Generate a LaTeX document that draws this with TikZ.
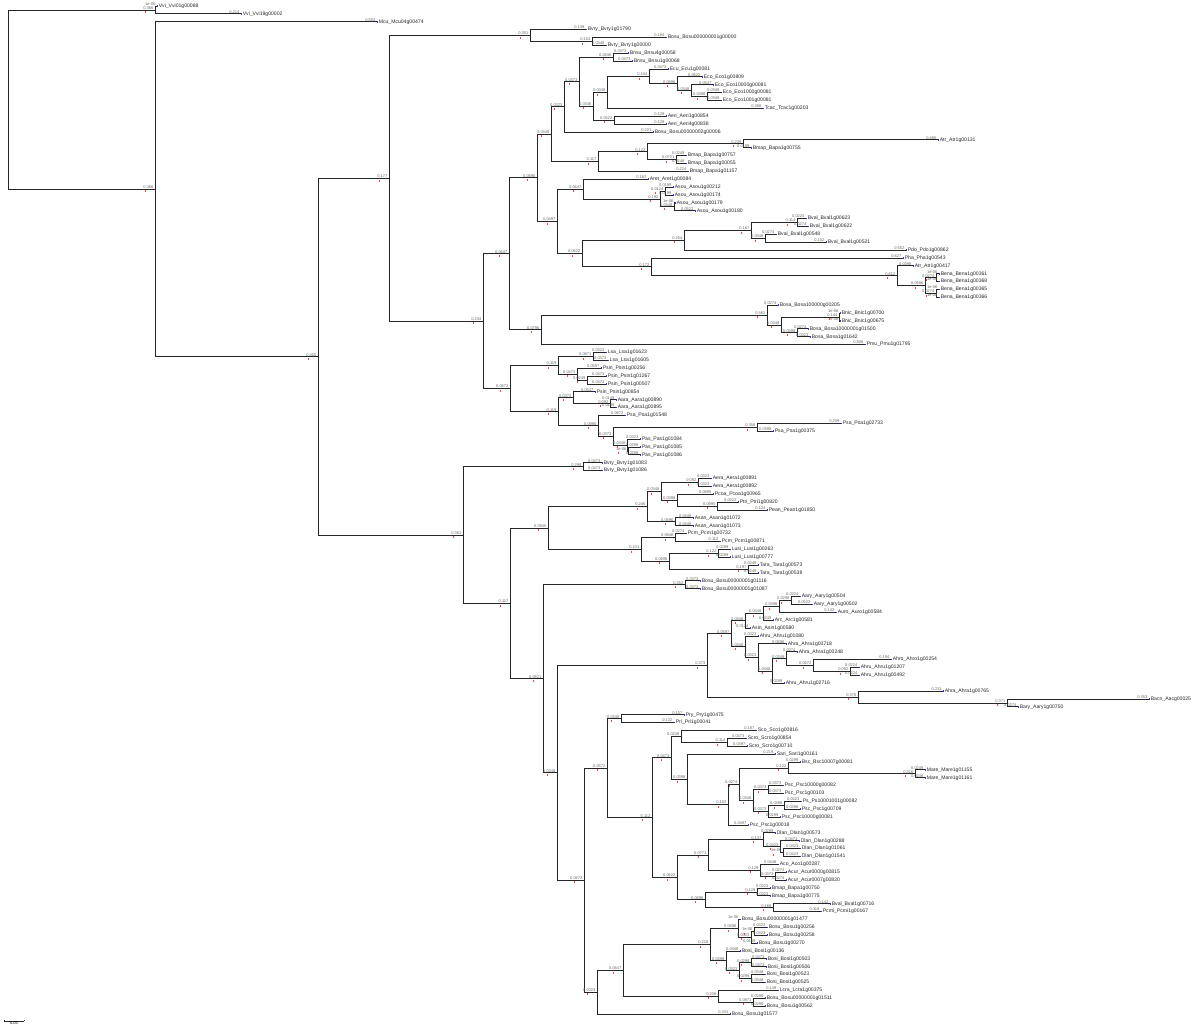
\documentclass[tikz,border=0pt]{standalone}
\usepackage{fontspec}
\setmainfont{Liberation Sans}
\usetikzlibrary{calc}

% branch length text
\newcommand{\bltext}[1]{\pgfmathsetmacro\blval{#1}\ifdim\blval pt<0.0075pt 1e-06\else\ifdim\blval pt<0.1pt\pgfmathprintnumber[fixed,precision=4,assume math mode=true]{\blval}\else\pgfmathprintnumber[fixed,precision=3,assume math mode=true]{\blval}\fi\fi}
% one branch, parent -> child
\newcommand{\treebranch}[2]{%
  \draw[twig] let \p1=(#1), \p2=(#2), \n1={(\x2-\x1)/402} in (#1) |- (#2) node[bllabel] {\bltext{\n1}};}
% inner node at x, halfway between its two children
\newcommand{\treeclade}[4]{%
  \path let \p1=($(#3)!.5!(#4)$) in coordinate (#1) at (#2pt,\y1);
  \treebranch{#1}{#3}\treebranch{#1}{#4}%
  \draw[nodetick] ([xshift=-10pt,yshift=-1.2pt]#1) -- ++(0,-2pt);}
% tip: name, x, row, text
\newcommand{\treeleaf}[4]{%
  \coordinate (#1) at (#2,#3);
  \fill[tipdot] ([yshift=-.8pt]#1) rectangle ++(1.2pt,1.6pt);
  \node[taxon] (#1t) at (#1) {#4};}

\begin{document}
\begin{tikzpicture}[x=1pt, y=-7.875pt,
    twig/.style = {draw=black!85, line width=0.8pt},
    bllabel/.style = {anchor=south east, inner sep=0.2pt, xshift=-1pt, font=\fontsize{4}{4.2}\selectfont, text=black!60},
    taxon/.style = {anchor=west, inner sep=0pt, xshift=1.6pt, font=\fontsize{5.1}{5.5}\selectfont, text=black!85},
    nodetick/.style = {draw=red!75, line width=0.5pt},
    tipdot/.style = {fill=blue!80}
]
\useasboundingbox (0,0.238) rectangle (1200,131.29);

% tips
\treeleaf{l1}{157}{1}{Vvi\_Vvi01g00088}
\treeleaf{l2}{241}{2}{Vvi\_Vvi19g00002}
\treeleaf{l3}{377}{3}{Mcu\_Mcu04g00474}
\treeleaf{l4}{586}{4}{Bvry\_Bvry1g01790}
\treeleaf{l5}{666}{5}{Bosu\_Bosu000000001g00000}
\treeleaf{l6}{606}{6}{Bvry\_Bvry1g00000}
\treeleaf{l7}{628}{7}{Bnsu\_Bnsu4g00058}
\treeleaf{l8}{632}{8}{Bnsu\_Bnsu1g00068}
\treeleaf{l9}{668}{9}{Ecu\_Ecu1g00081}
\treeleaf{l10}{702}{10}{Eco\_Eco1g00809}
\treeleaf{l11}{713}{11}{Eco\_Eco10000g00081}
\treeleaf{l12}{721}{12}{Eco\_Eco1000g00081}
\treeleaf{l13}{721}{13}{Eco\_Eco1001g00081}
\treeleaf{l14}{763}{14}{Tcac\_Tcac1g00203}
\treeleaf{l15}{666}{15}{Aeri\_Aeri1g00854}
\treeleaf{l16}{666}{16}{Aeri\_Aeri4g00838}
\treeleaf{l17}{653}{17}{Bosu\_Bosu00000002g00006}
\treeleaf{l18}{938}{18}{Atr\_Atr1g00131}
\treeleaf{l19}{751}{19}{Bmap\_Bapa1g00755}
\treeleaf{l20}{686}{20}{Bmap\_Bapa1g00757}
\treeleaf{l21}{686}{21}{Bmap\_Bapa1g00055}
\treeleaf{l22}{688}{22}{Bmap\_Bapa1g01157}
\treeleaf{l23}{648}{23}{Aret\_Aret1g00084}
\treeleaf{l24}{673}{24}{Asou\_Asou1g00212}
\treeleaf{l25}{673}{25}{Asou\_Asou1g00174}
\treeleaf{l26}{675}{26}{Asou\_Asou1g00179}
\treeleaf{l27}{695}{27}{Asou\_Asou1g00180}
\treeleaf{l28}{806}{28}{Bval\_Bval1g00623}
\treeleaf{l29}{808}{29}{Bval\_Bval1g00622}
\treeleaf{l30}{776}{30}{Bval\_Bval1g00548}
\treeleaf{l31}{826}{31}{Bval\_Bval1g00521}
\treeleaf{l32}{906}{32}{Pdo\_Pdo1g00862}
\treeleaf{l33}{903}{33}{Pha\_Pha1g00543}
\treeleaf{l34}{913}{34}{Atr\_Atr1g00417}
\treeleaf{l35}{939}{35}{Bena\_Bena1g00361}
\treeleaf{l36}{939}{36}{Bena\_Bena1g00368}
\treeleaf{l37}{939}{37}{Bena\_Bena1g00365}
\treeleaf{l38}{939}{38}{Bena\_Bena1g00366}
\treeleaf{l39}{778}{39}{Bosa\_Bosa100000g00205}
\treeleaf{l40}{840}{40}{Bnic\_Bnic1g00700}
\treeleaf{l41}{840}{41}{Bnic\_Bnic1g00675}
\treeleaf{l42}{808}{42}{Bosa\_Bosa10000001g01500}
\treeleaf{l43}{810}{43}{Bosa\_Bosa1g01642}
\treeleaf{l44}{865}{44}{Pmu\_Pmu1g01795}
\treeleaf{l45}{606}{45}{Lsa\_Lsa1g01623}
\treeleaf{l46}{608}{46}{Lsa\_Lsa1g01605}
\treeleaf{l47}{601}{47}{Psin\_Psin1g00256}
\treeleaf{l48}{606}{48}{Psin\_Psin1g01267}
\treeleaf{l49}{606}{49}{Psin\_Psin1g00507}
\treeleaf{l50}{595}{50}{Psin\_Psin1g00854}
\treeleaf{l51}{616}{51}{Aara\_Aara1g00890}
\treeleaf{l52}{616}{52}{Aara\_Aara1g00895}
\treeleaf{l53}{625}{53}{Psa\_Psa1g01548}
\treeleaf{l54}{841}{54}{Psa\_Psa1g02733}
\treeleaf{l55}{773}{55}{Psa\_Psa1g00375}
\treeleaf{l56}{640}{56}{Pas\_Pas1g01084}
\treeleaf{l57}{640}{57}{Pas\_Pas1g01085}
\treeleaf{l58}{640}{58}{Pas\_Pas1g01086}
\treeleaf{l59}{602}{59}{Bvry\_Bvry1g01083}
\treeleaf{l60}{602}{60}{Bvry\_Bvry1g01086}
\treeleaf{l61}{711}{61}{Aera\_Aera1g00891}
\treeleaf{l62}{711}{62}{Aera\_Aera1g00892}
\treeleaf{l63}{713}{63}{Pcoa\_Pcoa1g00965}
\treeleaf{l64}{738}{64}{Ptri\_Ptri1g00820}
\treeleaf{l65}{767}{65}{Pean\_Pean1g01850}
\treeleaf{l66}{693}{66}{Asan\_Asan1g01072}
\treeleaf{l67}{693}{67}{Asan\_Asan1g01073}
\treeleaf{l68}{686}{68}{Pcm\_Pcm1g00732}
\treeleaf{l69}{720}{69}{Pcm\_Pcm1g00871}
\treeleaf{l70}{730}{70}{Lusi\_Lusi1g00263}
\treeleaf{l71}{730}{71}{Lusi\_Lusi1g00777}
\treeleaf{l72}{758}{72}{Tara\_Tara1g00573}
\treeleaf{l73}{758}{73}{Tara\_Tara1g00538}
\treeleaf{l74}{700}{74}{Bosu\_Bosu00000001g01116}
\treeleaf{l75}{700}{75}{Bosu\_Bosu00000001g01087}
\treeleaf{l76}{800}{76}{Aary\_Aary1g00504}
\treeleaf{l77}{812}{77}{Aary\_Aary1g00502}
\treeleaf{l78}{836}{78}{Auro\_Auro1g00584}
\treeleaf{l79}{773}{79}{Arc\_Arc1g00581}
\treeleaf{l80}{750}{80}{Asin\_Asin1g00580}
\treeleaf{l81}{758}{81}{Ahru\_Ahru1g01080}
\treeleaf{l82}{786}{82}{Ahra\_Ahra1g00718}
\treeleaf{l83}{797}{83}{Ahra\_Ahra1g00248}
\treeleaf{l84}{891}{84}{Ahro\_Ahro1g00254}
\treeleaf{l85}{859}{85}{Ahru\_Ahru1g01207}
\treeleaf{l86}{859}{86}{Ahru\_Ahru1g00492}
\treeleaf{l87}{784}{87}{Ahru\_Ahru1g02716}
\treeleaf{l88}{943}{88}{Ahra\_Ahra1g00765}
\treeleaf{l89}{1149}{89}{Bacn\_Aacg00025}
\treeleaf{l90}{1018}{90}{Bary\_Aary1g00750}
\treeleaf{l91}{684}{91}{Pry\_Pry1g00475}
\treeleaf{l92}{674}{92}{Pri\_Pri1g00041}
\treeleaf{l93}{756}{93}{Sco\_Sco1g00816}
\treeleaf{l94}{746}{94}{Scro\_Scro1g00854}
\treeleaf{l95}{747}{95}{Scro\_Scro1g00710}
\treeleaf{l96}{775}{96}{Sari\_Sari1g00161}
\treeleaf{l97}{800}{97}{Bsc\_Bsc10007g00081}
\treeleaf{l98}{925}{98}{Mare\_Mare1g01155}
\treeleaf{l99}{925}{99}{Mare\_Mare1g01161}
\treeleaf{l100}{783}{100}{Psc\_Psc10000g00082}
\treeleaf{l101}{783}{101}{Psc\_Psc1g00103}
\treeleaf{l102}{801}{102}{Ps\_Ps10001001g00082}
\treeleaf{l103}{800}{103}{Psc\_Psc1g00709}
\treeleaf{l104}{780}{104}{Psc\_Psc10000g00081}
\treeleaf{l105}{748}{105}{Psc\_Psc1g00018}
\treeleaf{l106}{775}{106}{Dlan\_Dlan1g00573}
\treeleaf{l107}{799}{107}{Dlan\_Dlan1g00288}
\treeleaf{l108}{800}{108}{Dlan\_Dlan1g01061}
\treeleaf{l109}{800}{109}{Dlan\_Dlan1g01541}
\treeleaf{l110}{778}{110}{Aco\_Aco1g00287}
\treeleaf{l111}{786}{111}{Acur\_Acur0000g00815}
\treeleaf{l112}{786}{112}{Acur\_Acur0007g00820}
\treeleaf{l113}{770}{113}{Bmap\_Bapa1g00750}
\treeleaf{l114}{770}{114}{Bmap\_Bapa1g00775}
\treeleaf{l115}{830}{115}{Bval\_Bval1g00716}
\treeleaf{l116}{821}{116}{Pcmi\_Pcmi1g00167}
\treeleaf{l117}{740}{117}{Bosu\_Bosu00000001g01477}
\treeleaf{l118}{767}{118}{Bosu\_Bosu1g00256}
\treeleaf{l119}{767}{119}{Bosu\_Bosu1g00258}
\treeleaf{l120}{757}{120}{Bosu\_Bosu1g00270}
\treeleaf{l121}{740}{121}{Bosi\_Bosi1g00136}
\treeleaf{l122}{766}{122}{Bosi\_Bosi1g00503}
\treeleaf{l123}{766}{123}{Bosi\_Bosi1g00506}
\treeleaf{l124}{765}{124}{Bosi\_Bosi1g00523}
\treeleaf{l125}{765}{125}{Bosi\_Bosi1g00525}
\treeleaf{l126}{778}{126}{Lcra\_Lcra1g00375}
\treeleaf{l127}{765}{127}{Bosu\_Bosu00000001g01511}
\treeleaf{l128}{765}{128}{Bosu\_Bosu1g00562}
\treeleaf{l129}{730}{129}{Bosu\_Bosu1g01577}

% upper part
\treeclade{t1}{155}{l1}{l2}
\treeclade{m1}{592}{l5}{l6}
\treeclade{m2}{530}{l4}{m1}
\treeclade{c1}{613}{l7}{l8}
\treeclade{j1}{707}{l12}{l13}
\treeclade{i1}{691}{l11}{j1}
\treeclade{h1}{677}{l10}{i1}
\treeclade{g1}{649}{l9}{h1}
\treeclade{e1}{607}{g1}{l14}
\treeclade{f1}{614}{l15}{l16}
\treeclade{d1}{593}{e1}{f1}
\treeclade{b1}{579}{c1}{d1}
\treeclade{a1}{564}{b1}{l17}
\treeclade{k1}{743}{l18}{l19}
\treeclade{k2}{676}{l20}{l21}
\treeclade{k3}{647}{k1}{k2}
\treeclade{k4}{598}{k3}{l22}
\treeclade{a2}{551}{a1}{k4}
\treeclade{p1}{665}{l24}{l25}
\treeclade{p2}{674}{l26}{l27}
\treeclade{p3}{660}{p1}{p2}
\treeclade{p4}{583}{l23}{p3}
\treeclade{q1}{797}{l28}{l29}
\treeclade{q2}{765}{l30}{l31}
\treeclade{q3}{751}{q1}{q2}
\treeclade{q4}{684}{q3}{l32}
\treeclade{r1}{936}{l35}{l36}
\treeclade{r2}{936}{l37}{l38}
\treeclade{r3}{925}{r1}{r2}
\treeclade{r4}{897}{l34}{r3}
\treeclade{r5}{651}{l33}{r4}
\treeclade{q5}{582}{q4}{r5}
\treeclade{p5}{557}{p4}{q5}
\treeclade{a3}{537}{a2}{p5}
\treeclade{s1}{839}{l40}{l41}
\treeclade{s2}{797}{l42}{l43}
\treeclade{s3}{781}{s1}{s2}
\treeclade{s4}{767}{l39}{s3}
\treeclade{s5}{541}{s4}{l44}
\treeclade{a4}{509}{a3}{s5}
\treeclade{u1}{593}{l45}{l46}
\treeclade{u2}{587}{l48}{l49}
\treeclade{u3}{577}{l47}{u2}
\treeclade{u4}{558}{u1}{u3}
\treeclade{v1}{610}{l51}{l52}
\treeclade{v2}{573}{l50}{v1}
\treeclade{v3}{757}{l54}{l55}
\treeclade{v4}{628}{l57}{l58}
\treeclade{v5}{627}{l56}{v4}
\treeclade{v6}{613}{v3}{v5}
\treeclade{v7}{598}{l53}{v6}
\treeclade{v8}{558}{v2}{v7}
\treeclade{a5}{510}{u4}{v8}
\treeclade{a6}{483}{a4}{a5}
\treeclade{a8}{389}{m2}{a6}

% lower part
\treeclade{w1}{583}{l59}{l60}
\treeclade{x1}{698}{l61}{l62}
\treeclade{x2}{717}{l64}{l65}
\treeclade{x3}{677}{l63}{x2}
\treeclade{x4}{661}{x1}{x3}
\treeclade{x5}{675}{l66}{l67}
\treeclade{x6}{647}{x4}{x5}
\treeclade{y1}{675}{l68}{l69}
\treeclade{y2}{718}{l70}{l71}
\treeclade{y3}{748}{l72}{l73}
\treeclade{y4}{669}{y2}{y3}
\treeclade{y5}{641}{y1}{y4}
\treeclade{z1}{548}{x6}{y5}
\treeclade{z2}{685}{l74}{l75}
\treeclade{n1}{791}{l76}{l77}
\treeclade{n2}{779}{n1}{l78}
\treeclade{n3}{763}{n2}{l79}
\treeclade{n4}{745}{n3}{l80}
\treeclade{n5}{850}{l85}{l86}
\treeclade{n6}{813}{l84}{n5}
\treeclade{n7}{786}{l83}{n6}
\treeclade{n8}{772}{n7}{l87}
\treeclade{n9}{758}{l82}{n8}
\treeclade{n10}{745}{l81}{n9}
\treeclade{n11}{731}{n4}{n10}
\treeclade{o1}{1007}{l89}{l90}
\treeclade{o2}{858}{l88}{o1}
\treeclade{o3}{707}{n11}{o2}
\treeclade{b2}{621}{l91}{l92}
\treeclade{b3}{727}{l94}{l95}
\treeclade{b4}{681}{l93}{b3}
\treeclade{b5}{915}{l98}{l99}
\treeclade{b6}{788}{l97}{b5}
\treeclade{b7}{768}{l100}{l101}
\treeclade{b8}{784}{l102}{l103}
\treeclade{b9}{768}{b8}{l104}
\treeclade{b10}{753}{b7}{b9}
\treeclade{b11}{739}{b6}{b10}
\treeclade{b12}{728}{b11}{l105}
\treeclade{b13}{687}{l96}{b12}
\treeclade{b14}{671}{b4}{b13}
\treeclade{c3}{783}{l108}{l109}
\treeclade{c2}{780}{l107}{c3}
\treeclade{c4}{763}{l106}{c2}
\treeclade{c5}{775}{l111}{l112}
\treeclade{c6}{760}{l110}{c5}
\treeclade{c7}{708}{c4}{c6}
\treeclade{c8}{757}{l113}{l114}
\treeclade{c9}{773}{l115}{l116}
\treeclade{c10}{705}{c8}{c9}
\treeclade{c11}{677}{c7}{c10}
\treeclade{c12}{652}{b14}{c11}
\treeclade{c13}{607}{b2}{c12}
\treeclade{d2}{754}{l118}{l119}
\treeclade{d3}{751}{d2}{l120}
\treeclade{d4}{738}{l117}{d3}
\treeclade{d5}{751}{l122}{l123}
\treeclade{d6}{751}{l124}{l125}
\treeclade{d7}{739}{d5}{d6}
\treeclade{d8}{726}{l121}{d7}
\treeclade{d9}{710}{d4}{d8}
\treeclade{d10}{753}{l127}{l128}
\treeclade{d11}{718}{l126}{d10}
\treeclade{d12}{623}{d9}{d11}
\treeclade{d13}{597}{d12}{l129}
\treeclade{d14}{584}{c13}{d13}
\treeclade{e2}{557}{o3}{d14}
\treeclade{e3}{543}{z2}{e2}
\treeclade{e4}{510}{z1}{e3}
\treeclade{e5}{463}{w1}{e4}

% backbone
\treeclade{f2}{318}{a8}{e5}
\treeclade{f3}{155}{l3}{f2}
\treeclade{root}{8}{t1}{f3}

% scale bar
\coordinate (sbA) at (4,129.9);
\coordinate (sbB) at (24,129.9);
\draw[twig, line width=0.5pt] (sbA) -- (sbB);
\draw[twig, line width=0.5pt] (sbA) -- ++(0,1.5pt) (sbB) -- ++(0,1.5pt);
\node[font=\fontsize{4}{4.2}\selectfont, anchor=north, inner sep=0.5pt] (sbL) at ($(sbA)!.5!(sbB)$) {0.05};
\end{tikzpicture}
\end{document}
